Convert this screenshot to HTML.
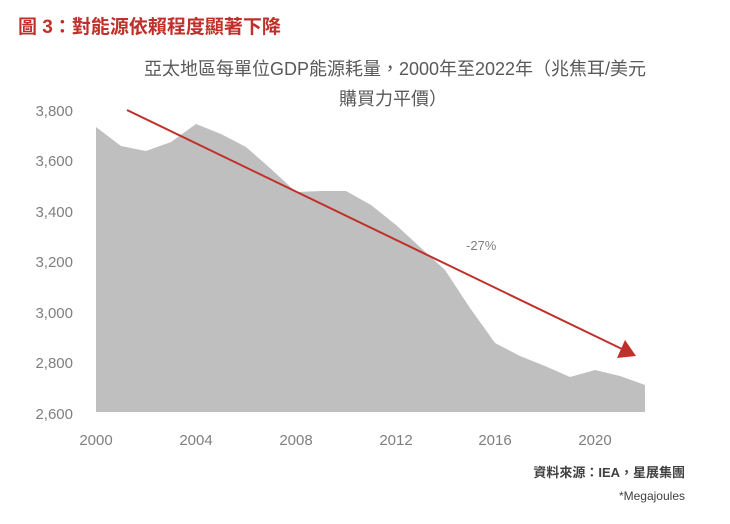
<!DOCTYPE html>
<html><head><meta charset="utf-8"><style>
body{margin:0;background:#fff;width:730px;height:519px;overflow:hidden;font-family:"Liberation Sans","Noto Sans CJK TC",sans-serif}
</style></head><body>
<svg width="730" height="519" xmlns="http://www.w3.org/2000/svg" font-family="Liberation Sans, Noto Sans CJK TC, sans-serif">
<text x="18" y="33" font-size="19" font-weight="bold" fill="#c0302b">圖 3：對能源依賴程度顯著下降</text>
<text x="395" y="75" font-size="18" fill="#595959" text-anchor="middle">亞太地區每單位GDP能源耗量，2000年至2022年（兆焦耳/美元</text>
<text x="393" y="105" font-size="18" fill="#595959" text-anchor="middle">購買力平價）</text>
<polygon fill="#bfbfbf" points="96,411 96,127 121,146 146,151 171,142 196,124 221,134 246,147 271,169 296,192 321,191 346,191 371,205 396,225 420,247 445,270 470,308 495,343 520,356 545,366 570,377 595,370 620,376 645,385 645,411"/>
<line x1="96" y1="411.5" x2="645" y2="411.5" stroke="#bfbfbf" stroke-width="1"/>
<g fill="#7f7f7f" font-size="15" text-anchor="end">
<text x="73" y="116">3,800</text>
<text x="73" y="166">3,600</text>
<text x="73" y="217">3,400</text>
<text x="73" y="267">3,200</text>
<text x="73" y="318">3,000</text>
<text x="73" y="368">2,800</text>
<text x="73" y="419">2,600</text>
</g>
<g fill="#7f7f7f" font-size="15" text-anchor="middle">
<text x="96" y="445">2000</text>
<text x="196" y="445">2004</text>
<text x="296" y="445">2008</text>
<text x="396" y="445">2012</text>
<text x="495" y="445">2016</text>
<text x="595" y="445">2020</text>
</g>
<line x1="127" y1="110" x2="622" y2="349" stroke="#c0302b" stroke-width="2"/>
<polygon points="636,356 617,358 625,340" fill="#c0302b"/>
<text x="466" y="250" font-size="13" fill="#7f7f7f">-27%</text>
<text x="685" y="477" font-size="13" font-weight="bold" fill="#404040" text-anchor="end">資料來源：IEA，星展集團</text>
<text x="685" y="500" font-size="12" fill="#404040" text-anchor="end">*Megajoules</text>
</svg>
</body></html>
